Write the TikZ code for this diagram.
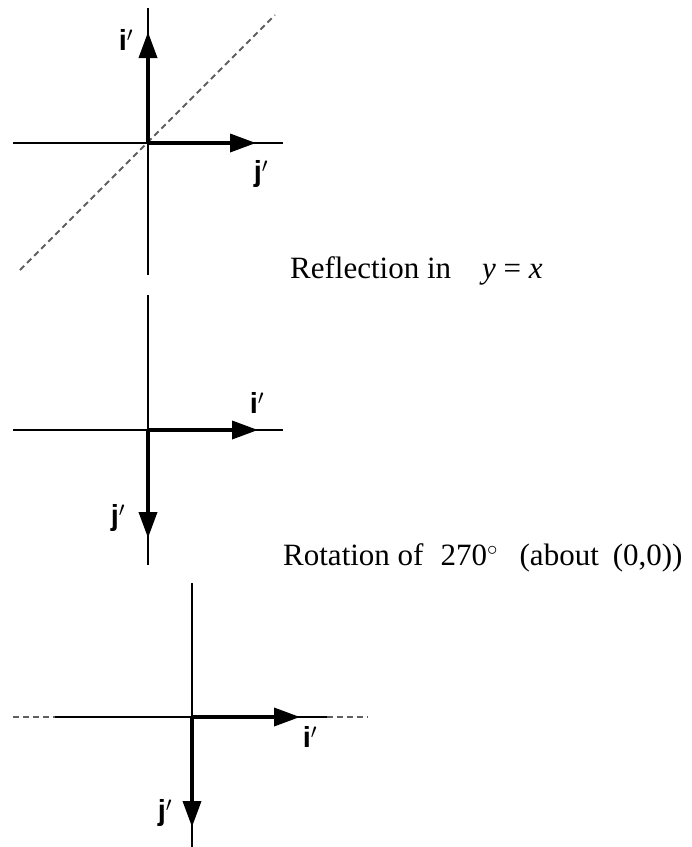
\documentclass[tikz,border=0pt]{standalone}
\usepackage{fontspec}
\setmainfont{Liberation Serif}
\newfontfamily\vecfont{Liberation Sans}
\usetikzlibrary{arrows.meta}
\usetikzlibrary{calc, math}
\definecolor{dashgrey}{RGB}{95,95,95}

\begin{document}
\begin{tikzpicture}[x=1pt,y=-1pt,
  axis/.style={line width=1.4pt},
  vec/.style={line width=3.6pt,-{Triangle[length=26pt,width=18pt]}},
  dashline/.style={line width=1.8pt,color=dashgrey,dash pattern=on 6pt off 4pt},
  veclabel/.style={inner sep=0pt,font=\vecfont\bfseries\fontsize{29}{29}\selectfont},
  caption/.style={inner sep=0pt,anchor=base west,font=\fontsize{31}{36}\selectfont}]
\tikzmath{
\half=135;   % half length of axes
}
\useasboundingbox (0,0) rectangle (692,847);

%reflection in y=x
\coordinate (O1) at (148,143);
\coordinate (Ax1l) at ($(O1)+(-\half,0)$);
\coordinate (Ax1r) at ($(O1)+(\half,0)$);
\coordinate (Ax1t) at (148,8);
\coordinate (Ax1b) at (148,275);
\coordinate (D1a) at (20,270);
\coordinate (D1b) at (275,15);
\coordinate (I1) at (148,32);
\coordinate (J1) at (256,143);

\draw[dashline] (D1a) -- (D1b);
\draw[axis] (Ax1l) -- (Ax1r);
\draw[axis] (Ax1t) -- (Ax1b);
\draw[vec] (O1) -- (I1);
\draw[vec] (O1) -- (J1);
\node[veclabel] (i1) at (126,40) {i$'$};
\node[veclabel] (j1) at (261,174) {j$'$};
\node[caption] (cap1) at (290,278) {Reflection in\hspace{1em}\textit{y} = \textit{x}};

%rotation of 270
\coordinate (O2) at (148,430);
\coordinate (Ax2l) at ($(O2)+(-\half,0)$);
\coordinate (Ax2r) at ($(O2)+(\half,0)$);
\coordinate (Ax2t) at (148,295);
\coordinate (Ax2b) at (148,565);
\coordinate (I2) at (258,430);
\coordinate (J2) at (148,538);

\draw[axis] (Ax2l) -- (Ax2r);
\draw[axis] (Ax2t) -- (Ax2b);
\draw[vec] (O2) -- (I2);
\draw[vec] (O2) -- (J2);
\node[veclabel] (i2) at (257,403) {i$'$};
\node[veclabel] (j2) at (118,518) {j$'$};
\node[caption] (cap2) at (283,565) {Rotation of\hspace{0.55em}270$^{\circ}$\hspace{0.7em}(about\hspace{0.45em}(0,0))};

%third picture
\coordinate (O3) at (192,717);
\coordinate (Ax3l) at (13,717);
\coordinate (Ax3ls) at (55,717);
\coordinate (Ax3rs) at (327,717);
\coordinate (Ax3r) at (368,717);
\coordinate (Ax3t) at (192,583);
\coordinate (Ax3b) at (192,847);
\coordinate (I3) at (300,717);
\coordinate (J3) at (192,827);

\draw[dashline] (Ax3l) -- (Ax3ls);
\draw[dashline] (Ax3rs) -- (Ax3r);
\draw[axis] (Ax3ls) -- (Ax3rs);
\draw[axis] (Ax3t) -- (Ax3b);
\draw[vec] (O3) -- (I3);
\draw[vec] (O3) -- (J3);
\node[veclabel] (i3) at (310,737) {i$'$};
\node[veclabel] (j3) at (165,813) {j$'$};
\end{tikzpicture}
\end{document}
